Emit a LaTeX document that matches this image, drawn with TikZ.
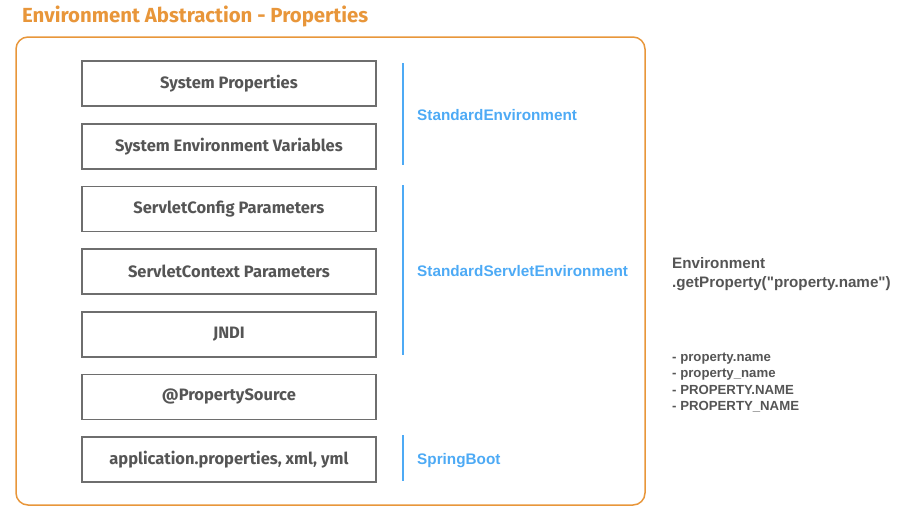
\documentclass[tikz,border=0pt]{standalone}
\usepackage{fontspec}
\setmainfont{Liberation Sans}
\newfontfamily\handfont{Fira Sans}
\newfontfamily\rtfont{Liberation Sans}
\definecolor{orng}{HTML}{E8963A}
\definecolor{boxgray}{HTML}{6E6E6E}
\definecolor{txtgray}{HTML}{555555}
\definecolor{blu}{HTML}{4DAAF5}
\begin{document}
\begin{tikzpicture}[x=1pt,y=-1pt,
  srcbox/.style={draw=boxgray,line width=1.8pt,minimum width=294pt,minimum height=45pt,inner sep=0pt,anchor=north west,text=txtgray,font=\handfont\bfseries\fontsize{16.5}{18}\selectfont},
  grpline/.style={draw=blu,line width=1.3pt},
  grplabel/.style={anchor=base west,text=blu,font=\bfseries\fontsize{15.3}{17}\selectfont,inner sep=0pt},
  rtext/.style={anchor=base west,text=txtgray,font=\rtfont\bfseries\fontsize{15.2}{17}\selectfont,inner sep=0pt},
  ltext/.style={anchor=base west,text=txtgray,font=\bfseries\fontsize{13.2}{15}\selectfont,inner sep=0pt}]
\useasboundingbox (0,0) rectangle (902,530);
\node[anchor=base west,text=orng,inner sep=0pt,font=\handfont\bfseries\fontsize{20.4}{23}\selectfont] (title) at (22,23) {Environment Abstraction - Properties};
\draw[orng,line width=1.5pt,rounded corners=12pt] (16,37) rectangle (645,505);
\node[srcbox] (b1) at (81,60) {System Properties};
\node[srcbox] (b2) at (81,123) {System Environment Variables};
\node[srcbox] (b3) at (81,185.5) {ServletConfig Parameters};
\node[srcbox] (b4) at (81,248) {ServletContext Parameters};
\node[srcbox] (b5) at (81,311) {JNDI};
\node[srcbox] (b6) at (81,373.5) {@PropertySource};
\node[srcbox] (b7) at (81,436) {application.properties, xml, yml};
\coordinate (l1a) at (403,63); \coordinate (l1b) at (403,165);
\coordinate (l2a) at (403,185); \coordinate (l2b) at (403,355);
\coordinate (l3a) at (403,435); \coordinate (l3b) at (403,481);
\draw[grpline] (l1a) -- (l1b);
\draw[grpline] (l2a) -- (l2b);
\draw[grpline] (l3a) -- (l3b);
\node[grplabel] (g1) at (417,120.5) {StandardEnvironment};
\node[grplabel] (g2) at (417,276.5) {StandardServletEnvironment};
\node[grplabel] (g3) at (417,464.5) {SpringBoot};
\node[rtext] (r1) at (672,268.5) {Environment};
\node[rtext] (r2) at (672,287.5) {.getProperty("property.name")};
\node[ltext] (p1) at (672,361) {- property.name};
\node[ltext] (p2) at (672,377.5) {- property\_name};
\node[ltext] (p3) at (672,394) {- PROPERTY.NAME};
\node[ltext] (p4) at (672,410.5) {- PROPERTY\_NAME};
\end{tikzpicture}
\end{document}
